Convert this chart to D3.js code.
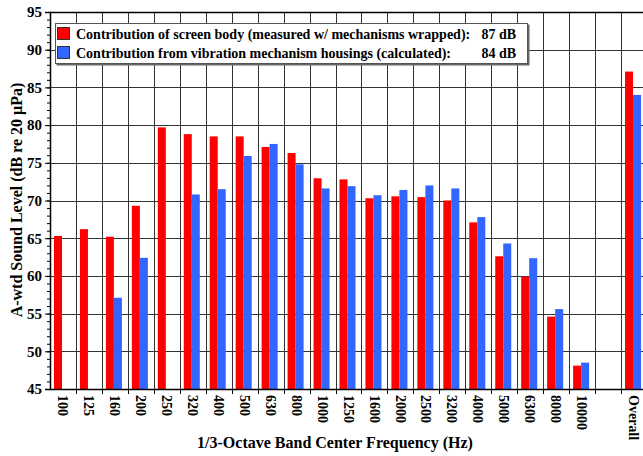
<!DOCTYPE html>
<html>
<head>
<meta charset="utf-8">
<script src="https://cdn.jsdelivr.net/npm/d3@7"></script>
<style>
  body { margin: 0; background: #fff; }
  svg { display: block; font-family: "Liberation Serif", "Times New Roman", serif; font-weight: bold; }
</style>
</head>
<body>
<div id="chart"></div>
<script>
// 1/3-octave band levels
var bands = ["100", "125", "160", "200", "250", "320", "400", "500", "630", "800",
    "1000", "1250", "1600", "2000", "2500", "3200", "4000", "5000", "6300", "8000",
    "10000", "", "Overall"];
var screenBody = [65.3, 66.2, 65.2, 69.3, 79.7, 78.8, 78.5, 78.5, 77.1, 76.3,
    72.95, 72.8, 70.3, 70.55, 70.45, 70.0, 67.1, 62.6, 59.9, 54.6,
    48.1, null, 87.1];
var housings = [null, null, 57.1, 62.4, null, 70.8, 71.5, 75.9, 77.5, 74.8,
    71.6, 71.9, 70.7, 71.4, 72.0, 71.6, 67.8, 64.3, 62.35, 55.6,
    48.5, null, 84.0];
var yTicks = [45, 50, 55, 60, 65, 70, 75, 80, 85, 90, 95];
var legendLabels = ["Contribution of screen body (measured w/ mechanisms wrapped):",
    "Contribution from vibration mechanism housings (calculated):"];
var legendTotals = ["87 dB", "84 dB"];

var W = 643, H = 456;
var mLeft = 50, mTop = 12, plotRight = 647, mBottom = 389;

var svg = d3.select("#chart").append("svg")
    .attr("width", W)
    .attr("height", H);

var x = d3.scaleBand()
    .domain(bands)
    .range([mLeft, plotRight])
    .padding(0);

var sub = d3.scaleBand()
    .domain(["a", "b"])
    .range([0, x.bandwidth()])
    .paddingInner(0)
    .paddingOuter(0.62)
    .align(0.4);

var y = d3.scaleLinear()
    .domain([45, 95])
    .range([mBottom, mTop]);

// grid
var grid = svg.append("g").attr("stroke", "#333").attr("stroke-width", 1);
grid.selectAll(".h")
    .data(yTicks.slice(1))
    .enter().append("line")
    .attr("x1", mLeft).attr("x2", W)
    .attr("y1", function(d) { return Math.round(y(d)) + 0.5; })
    .attr("y2", function(d) { return Math.round(y(d)) + 0.5; });
grid.selectAll(".v")
    .data(bands.slice(1))
    .enter().append("line")
    .attr("x1", function(d) { return Math.round(x(d)) + 0.5; })
    .attr("x2", function(d) { return Math.round(x(d)) + 0.5; })
    .attr("y1", mTop).attr("y2", mBottom);

// bars
var rows = bands.map(function(b, i) { return {band: b, a: screenBody[i], b: housings[i]}; });
var colors = {a: "#ff0000", b: "#3366ff"};
["a", "b"].forEach(function(k) {
  svg.append("g").selectAll("rect")
    .data(rows.filter(function(d) { return d[k] != null; }))
    .enter().append("rect")
    .attr("x", function(d) { return x(d.band) + sub(k); })
    .attr("width", sub.bandwidth())
    .attr("y", function(d) { return y(d[k]); })
    .attr("height", function(d) { return mBottom - y(d[k]); })
    .attr("fill", colors[k]);
});

// y axis
var yAxis = svg.append("g")
    .attr("transform", "translate(" + mLeft + ",0)")
    .call(d3.axisLeft(y).tickValues(yTicks).tickSize(5).tickPadding(3));
yAxis.select(".domain").attr("stroke", "#000").attr("stroke-width", 1.5);
yAxis.selectAll("text").attr("font-size", 15).attr("font-family", "Liberation Serif").attr("font-weight", "bold").attr("fill", "#000");
svg.append("g")
    .attr("transform", "translate(" + mLeft + ",0)")
    .call(d3.axisLeft(y).tickValues(d3.range(45, 96, 1)).tickSize(3).tickFormat(""))
    .select(".domain").remove();

// x axis
var xAxis = svg.append("g")
    .attr("transform", "translate(0," + mBottom + ")")
    .call(d3.axisBottom(x).tickSize(0).tickPadding(0));
xAxis.select(".domain").attr("stroke", "#000").attr("stroke-width", 1.5);
xAxis.selectAll("text")
    .attr("font-size", 14)
    .attr("font-family", "Liberation Serif")
    .attr("font-weight", "bold")
    .attr("fill", "#000")
    .attr("text-anchor", "start")
    .attr("dy", "0.35em")
    .attr("transform", "translate(0,6) rotate(90)")
    .attr("y", 0)
    .attr("x", 0);
svg.append("g").selectAll("line")
    .data(bands.slice(1))
    .enter().append("line")
    .attr("x1", function(d) { return Math.round(x(d)) + 0.5; })
    .attr("x2", function(d) { return Math.round(x(d)) + 0.5; })
    .attr("y1", mBottom).attr("y2", mBottom + 5)
    .attr("stroke", "#000");

// top border
svg.append("line")
    .attr("x1", mLeft).attr("x2", W)
    .attr("y1", mTop + 0.5).attr("y2", mTop + 0.5)
    .attr("stroke", "#000").attr("stroke-width", 1.5);

// axis titles
svg.append("text")
    .attr("x", 335).attr("y", 448)
    .attr("text-anchor", "middle")
    .attr("font-size", 16)
    .text("1/3-Octave Band Center Frequency (Hz)");
svg.append("text")
    .attr("transform", "translate(22,200) rotate(-90)")
    .attr("text-anchor", "middle")
    .attr("font-size", 16)
    .text("A-wtd Sound Level (dB re 20 \u00b5Pa)");

// legend
var lg = svg.append("g");
lg.append("rect")
    .attr("x", 56.5).attr("y", 24.5).attr("width", 473).attr("height", 41)
    .attr("fill", "#666");
lg.append("rect")
    .attr("x", 55.5).attr("y", 23.5).attr("width", 472).attr("height", 40)
    .attr("fill", "#fff").attr("stroke", "#555");
["a", "b"].forEach(function(k, i) {
  var cy = 34 + i * 19;
  lg.append("rect")
    .attr("x", 57.5).attr("y", cy - 6.5).attr("width", 12).attr("height", 12)
    .attr("fill", colors[k]).attr("stroke", "#333");
  lg.append("text")
    .attr("x", 76).attr("y", cy + 5)
    .attr("font-size", 14)
    .text(legendLabels[i]);
  lg.append("text")
    .attr("x", 516).attr("y", cy + 5)
    .attr("text-anchor", "end")
    .attr("font-size", 14)
    .text(legendTotals[i]);
});
</script>
</body>
</html>
